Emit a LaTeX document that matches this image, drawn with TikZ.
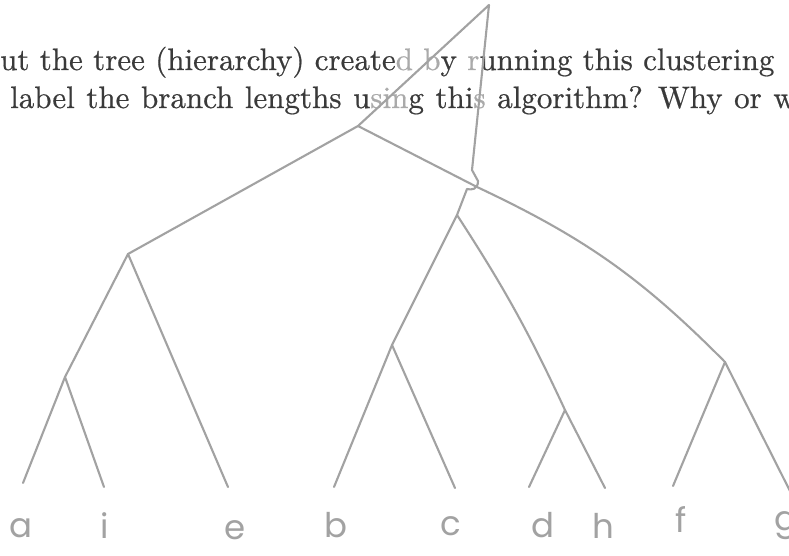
\documentclass[tikz,border=0pt]{standalone}
\usepackage{fontspec}
\newfontfamily\cmten[FakeBold=0.6]{lmroman10-regular.otf}
\newfontfamily\hand{Poppins}
\definecolor{ink}{RGB}{162,162,162}
\definecolor{txt}{RGB}{58,58,58}
\definecolor{faint}{RGB}{170,170,170}
\begin{document}
\begin{tikzpicture}[x=1pt,y=-1pt,
  branch/.style={draw=ink,line width=2.1pt,line cap=round,line join=round},
  leaf/.style={text=ink,font=\hand\fontsize{34}{34}\selectfont,anchor=base,inner sep=0pt},
  prose/.style={text=txt,font=\cmten\fontsize{31}{37}\selectfont,anchor=base west,inner sep=0pt}]
\useasboundingbox (0,0) rectangle (789,556);
\fill[white] (0,0) rectangle (789,556);
% text
\node[prose] (line1) at (0,70) {ut the tree (hierarchy) create{\color{faint}d} {\color{faint}b}y {\color{faint}r}unning this clustering};
\node[prose] (line2) at (10,108) {\spaceskip=11.6pt label the branch lengths u{\color{faint}sin}g thi{\color{faint}s} algorithm? Why or w};
% tree points
\coordinate (apex) at (489,5);
\coordinate (root) at (358,126);
\coordinate (v1) at (472,170);
\coordinate (v2) at (478,181);
\coordinate (R) at (477,187);
\coordinate (hook) at (467,189);
\coordinate (B) at (457,215);
\coordinate (FG) at (725,362);
\coordinate (L) at (128,254);
\coordinate (AI) at (65,377);
\coordinate (BC) at (392,345);
\coordinate (DH) at (565,410);
\coordinate (ea) at (23,483);
\coordinate (ei) at (104,487);
\coordinate (ee) at (228,487);
\coordinate (eb) at (334,487);
\coordinate (ec) at (455,488);
\coordinate (ed) at (529,487);
\coordinate (eh) at (605,488);
\coordinate (ef) at (673,486);
\coordinate (eg) at (792,495);
% branches
\draw[branch] (root) -- (apex) -- (v1) -- (v2) .. controls (478,190) and (471,190) .. (hook) -- (B);
\draw[branch] (root) -- (R) to[bend left=10] (FG);
\draw[branch] (root) -- (L);
\draw[branch] (L) -- (AI);
\draw[branch] (AI) -- (ea);
\draw[branch] (AI) -- (ei);
\draw[branch] (L) -- (ee);
\draw[branch] (B) -- (BC);
\draw[branch] (BC) -- (eb);
\draw[branch] (BC) -- (ec);
\draw[branch] (B) to[bend left=4] (DH);
\draw[branch] (DH) -- (ed);
\draw[branch] (DH) -- (eh);
\draw[branch] (FG) -- (ef);
\draw[branch] (FG) -- (eg);
% leaf labels
\node[leaf] (la) at (21,537) {a};
\node[leaf] (li) at (105,538) {i};
\node[leaf] (le) at (235,539) {e};
\node[leaf] (lb) at (336,537) {b};
\node[leaf] (lc) at (451,535) {c};
\node[leaf] (ld) at (543,537) {d};
\node[leaf] (lh) at (603,538) {h};
\node[leaf] (lf) at (681,532) {f};
\node[leaf] (lg) at (786,530) {g};
\end{tikzpicture}
\end{document}
